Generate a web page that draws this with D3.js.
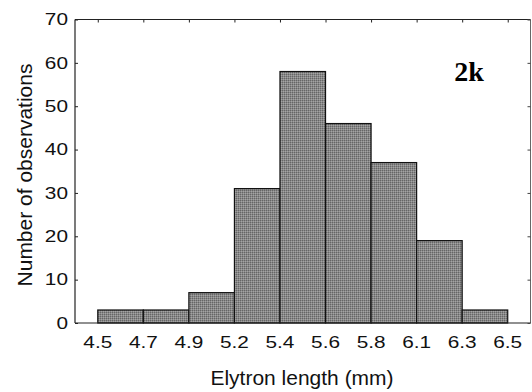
<!DOCTYPE html>
<html><head><meta charset="utf-8">
<script src="https://cdn.jsdelivr.net/npm/d3@7"></script>
<style>body{margin:0;background:#fff}svg{display:block}</style>
</head><body>
<script>
const edgeLabels = ["4.5","4.7","4.9","5.2","5.4","5.6","5.8","6.1","6.3","6.5"];
const counts = [3, 3, 7, 31, 58, 46, 37, 19, 3];
const yTicks = [0, 10, 20, 30, 40, 50, 60, 70];

const W = 532, H = 392;
const m = {left: 75, right: 1.5, top: 19.5, bottom: 69};
const svg = d3.select("body").append("svg").attr("width", W).attr("height", H);
const FONT = "Liberation Sans, Arial, sans-serif";
const SX = 1.3;

const defs = svg.append("defs");
const pat = defs.append("pattern").attr("id","chk").attr("width",2).attr("height",2).attr("patternUnits","userSpaceOnUse");
pat.append("rect").attr("width",2).attr("height",2).attr("fill","#888888");
pat.append("rect").attr("width",1).attr("height",1).attr("fill","#666666");
pat.append("rect").attr("x",1).attr("y",1).attr("width",1).attr("height",1).attr("fill","#a4a4a4");

const x = d3.scaleLinear().domain([-0.5, 9.5]).range([m.left, W - m.right]);
const y = d3.scaleLinear().domain([0, 70]).range([H - m.bottom, m.top]);

// bars
svg.append("g").selectAll("rect").data(counts).join("rect")
  .attr("x", (d,i) => x(i))
  .attr("y", d => y(d))
  .attr("width", (d,i) => x(i+1) - x(i))
  .attr("height", d => y(0) - y(d))
  .attr("fill", "url(#chk)")
  .attr("stroke", "#111").attr("stroke-width", 1.2);

// frame
const x0 = x.range()[0], x1 = x.range()[1], y0 = y.range()[0], y1 = y.range()[1];
svg.append("line").attr("x1",x0).attr("x2",x1).attr("y1",y1).attr("y2",y1).attr("stroke","#222").attr("stroke-width",1.2);
svg.append("line").attr("x1",x1).attr("x2",x1).attr("y1",y1).attr("y2",y0).attr("stroke","#666").attr("stroke-width",1);
svg.append("line").attr("x1",x0).attr("x2",x0).attr("y1",y1).attr("y2",y0).attr("stroke","#222").attr("stroke-width",1.2);
svg.append("line").attr("x1",x0).attr("x2",x1).attr("y1",y0).attr("y2",y0).attr("stroke","#222").attr("stroke-width",1.2);

// y axis left inward ticks
const yAxisL = svg.append("g").attr("transform",`translate(${x0},0)`)
  .call(d3.axisRight(y).tickValues(yTicks).tickSize(3).tickFormat(""));
yAxisL.select(".domain").remove();
yAxisL.selectAll("line").attr("stroke","#222");
svg.append("g").selectAll("text").data(yTicks).join("text")
  .attr("transform", d => `translate(${x0 - 7},${y(d)}) scale(${SX},1)`)
  .attr("dy","0.36em")
  .attr("text-anchor","end").attr("font-family",FONT)
  .attr("font-size",16).attr("fill","#111").text(d => d);

// y axis right inward ticks
const yAxisR = svg.append("g").attr("transform",`translate(${x1},0)`)
  .call(d3.axisLeft(y).tickValues(yTicks).tickSize(3).tickFormat(""));
yAxisR.select(".domain").remove();
yAxisR.selectAll("line").attr("stroke","#444");

// top inward ticks at bin edges
const edges = d3.range(edgeLabels.length);
const xAxisT = svg.append("g").attr("transform",`translate(0,${y1})`)
  .call(d3.axisBottom(x).tickValues(edges).tickSize(3).tickFormat(""));
xAxisT.select(".domain").remove();
xAxisT.selectAll("line").attr("stroke","#222");

// x labels at bin edges
svg.append("g").selectAll("text").data(edgeLabels).join("text")
  .attr("transform", (d,i) => `translate(${x(i)},${y0 + 25}) scale(${SX},1)`)
  .attr("text-anchor","middle").attr("font-family",FONT)
  .attr("font-size",16).attr("fill","#111").text(d => d);

// axis titles
svg.append("text").attr("transform", `translate(302,385) scale(1.05,1)`)
  .attr("text-anchor","middle").attr("font-family",FONT)
  .attr("font-size",20).attr("fill","#111").text("Elytron length (mm)");
svg.append("text").attr("transform",`translate(32,175) rotate(-90)`)
  .attr("text-anchor","middle").attr("font-family",FONT)
  .attr("font-size",21).attr("fill","#111").text("Number of observations");

svg.append("text").attr("x", 469).attr("y", 81)
  .attr("text-anchor","middle").attr("font-family","Liberation Serif, Times New Roman, serif")
  .attr("font-weight","bold").attr("font-size",28).attr("fill","#000").text("2k");
</script>
</body></html>
